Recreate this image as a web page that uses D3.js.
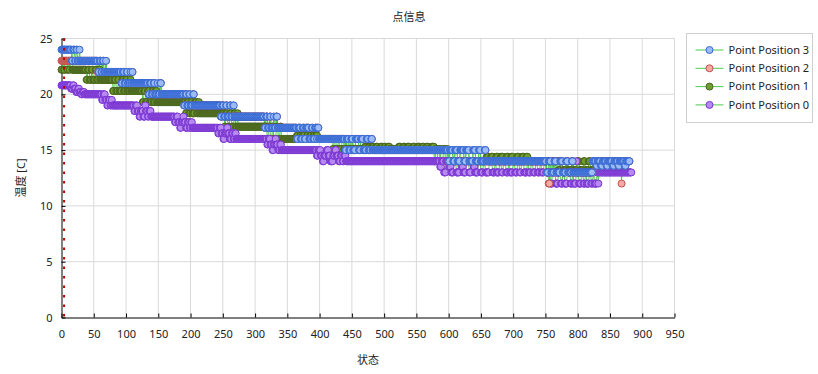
<!DOCTYPE html>
<html>
<head>
<meta charset="utf-8">
<script src="https://cdn.jsdelivr.net/npm/d3@7"></script>
<style>
body { margin: 0; background: #ffffff; }
svg { display: block; }
</style>
</head>
<body>
<script>
var chartWidth = 818;
var chartHeight = 374;

var xTickValues = [0, 50, 100, 150, 200, 250, 300, 350, 400, 450, 500, 550, 600, 650, 700, 750, 800, 850, 900, 950];
var yTickValues = [0, 5, 10, 15, 20, 25];
var seriesNames = ["Point Position 3", "Point Position 2", "Point Position 1", "Point Position 0"];
var currentState = 4;

// temperatures as runs: [value, number of consecutive states]
var pos3Runs = [
    [24,16],
    [23,2],[24,3],[23,2],[24,2],[23,3],[24,1],[23,2],
    [23,26],
    [22,2],[23,3],[22,2],[23,2],[22,3],[23,1],[22,2],
    [22,21],
    [21,2],[22,3],[21,3],[22,2],[21,4],[22,1],[21,2],[22,1],[21,2],
    [21,22],
    [20,2],[21,3],[20,3],[21,2],[20,4],[21,1],[20,3],[21,2],
    [20,35],
    [19,2],[20,3],[19,3],[20,2],[19,4],[20,2],[19,3],
    [19,38],
    [18,2],[19,3],[18,3],[19,2],[18,4],[19,2],[18,3],[19,2],
    [18,47],
    [17,2],[18,3],[17,3],[18,2],[17,4],[18,1],[17,3],[18,2],
    [17,30],
    [16,2],[17,4],[16,3],[17,3],[16,2],[17,5],[16,4],[17,2],[16,3],[17,3],[16,1],[17,2],
    [16,41],
    [15,2],[16,4],[15,3],[16,3],[15,4],[16,5],[15,3],[16,4],[15,5],[16,3],[15,4],[16,2],[15,2],
    [15,116],
    [14,2],[15,5],[14,3],[15,4],[14,4],[15,6],[14,3],[15,5],[14,6],[15,4],[14,5],[15,3],[14,6],[15,2],[14,6],
    [14,88],
    [13,3],[14,4],[13,5],[14,3],[13,6],[14,4],[13,5],[14,3],[13,6],[14,2],[13,7],
    [13,23],
    [14,6],[13.6,2],[14,5],[13.6,3],[14,6],[13.6,2],[14,7],[13.6,3],[14,6],[13.6,2],[14,8],[13.6,2],[14,6]
];

var pos2Runs = [
    [23,56],
    [22,3],[23,3],[22,2],[23,2],[22,3],[23,1],[22,2],
    [22,21],
    [21,2],[22,3],[21,3],[22,2],[21,4],[22,1],[21,2],[22,1],[21,2],
    [21,22],
    [20,2],[21,3],[20,3],[21,2],[20,8],[21,2],
    [20,35],
    [19,2],[20,3],[19,3],[20,2],[19,4],[20,2],[19,3],
    [19,38],
    [18,2],[19,3],[18,3],[19,2],[18,4],[19,2],[18,5],
    [18,47],
    [17,2],[18,3],[17,3],[18,2],[17,4],[18,1],[17,3],[18,2],
    [17,30],
    [16,2],[17,4],[16,3],[17,3],[16,2],[17,5],[16,4],[17,2],[16,3],[17,3],[16,1],[17,2],
    [16,41],
    [15,2],[16,4],[15,3],[16,3],[15,4],[16,5],[15,3],[16,4],[15,5],[16,3],[15,4],[16,2],[15,2],
    [15,116],
    [14,2],[15,5],[14,3],[15,4],[14,4],[15,6],[14,3],[15,5],[14,6],[15,4],[14,5],[15,3],[14,6],[15,2],[14,6],
    [14,88],
    [13,3],[12,2],[14,2],[13,5],[14,3],[13,6],[14,4],[13,5],[14,3],[13,6],[14,2],[13,7],
    [13,23],
    [14,6],[13.6,2],[14,5],[13.6,3],[14,6],[13.6,2],[14,7],[13.6,3],[14,6],[13.6,2],[14,3],[12,1],[14,4],[13.6,2],[14,6]
];

var pos1Runs = [
    [22.2,2],[23,2],[22.2,2],[23,3],[22.2,2],[23,2],[22.2,1],[23,3],[22.2,22],
    [21.3,2],[22.2,3],[21.3,3],[22.2,2],[21.3,4],[22.2,2],[21.3,3],[22.2,2],[21.3,3],
    [21.3,17],
    [20.3,2],[21.3,3],[20.3,3],[21.3,2],[20.3,4],[21.3,3],[20.3,3],[21.3,2],[20.3,5],[21.3,1],[20.3,3],
    [20.3,15],
    [19.3,2],[20.3,3],[19.3,3],[20.3,3],[19.3,4],[20.3,2],[19.3,3],[20.3,2],[19.3,3],
    [19.3,42],
    [18.3,2],[19.3,3],[18.3,3],[19.3,2],[18.3,4],[19.3,3],[18.3,3],[19.3,1],[18.3,2],
    [18.3,37],
    [17.1,2],[18.3,3],[17.1,3],[18.3,3],[17.1,4],[18.3,2],[17.1,3],[18.3,1],[17.1,2],
    [17.1,43],
    [16,2],[17.1,3],[16,3],[17.1,2],[16,4],[17.1,3],[16,3],[17.1,2],
    [16,24],
    [16.3,2],[16,3],[16.3,2],[16,2],[16.3,3],[16,4],[16.3,2],[16,3],[16.3,2],[16,3],[16.3,2],[16,2],[16.3,2],
    [16,24],
    [15.1,2],[16,3],[15.1,3],[16,2],[15.1,4],[16,3],[15.1,3],[16,2],
    [15.1,28],
    [15.3,2],[15.1,3],[15.3,3],[15.1,2],[15.3,4],[15.1,3],[15.3,3],[15.1,4],[15.3,3],[15.1,3],[15.3,2],[15.1,3],[15.3,3],[15.1,2],
    [15.1,12],
    [15.3,3],[15.1,4],[15.3,3],[15.1,3],[15.3,4],[15.1,5],[15.3,3],[15.1,4],[15.3,4],[15.1,3],[15.3,3],[15.1,4],[15.3,3],[15.1,5],[15.3,4],
    [14,2],[15.1,3],[14,3],[15.1,2],[14,4],[15.1,3],[14,3],[15.1,1],[14,2],
    [14,58],
    [14.4,3],[14,4],[14.4,3],[14,5],[14.4,3],[14,4],[14.4,4],[14,5],[14.4,3],[14,4],[14.4,3],[14,6],[14.4,3],[14,5],[14.4,3],[14,4],[14.4,2],[14,4],
    [14,43],
    [13.2,3],[14,4],[13.2,5],[14,3],[13.2,6],[14,3],[13.2,5],[14,4],[13.2,6],[14,3],[13.2,5],[14,3],[13.2,6],
    [14,55]
];

var pos0Runs = [
    [20.8,15],
    [20.5,3],[20.8,2],[20.5,3],[20.2,3],[20.5,2],[20.2,3],[20,2],[20.2,3],
    [20,27],
    [19.5,2],[20,3],[19.5,3],[19,2],[19.5,3],[19,2],[19.5,1],[19,2],
    [19,32],
    [18.5,2],[19,3],[18.5,3],[18,2],[18.5,4],[18,3],[19,1],[18.5,3],[18,2],[18.5,3],[18,2],
    [18,35],
    [17.5,2],[18,3],[17.5,3],[17,2],[17.5,3],[18,1],[17.5,3],[17,3],[17.5,3],[17,2],[17.5,2],[17,3],
    [17,37],
    [16.5,2],[17,3],[16.5,3],[16,2],[16.5,4],[17,1],[16.5,3],[16,3],[16.5,3],[16,2],[16.5,2],
    [16,48],
    [15.5,2],[16,3],[15.5,3],[15,2],[15.5,3],[16,1],[15.5,3],[15,3],[15.5,2],
    [15,55],
    [14.5,2],[15,4],[14.5,3],[14,2],[14.5,4],[15,3],[14.5,3],[14,4],[14.5,3],[15,2],[14.5,4],[14,3],[14.5,3],[14,2],[14.5,3],[14,3],
    [14,143],
    [13.5,2],[14,4],[13,3],[14,5],[13.5,3],[13,4],[14,4],[13,5],[14,3],[13.5,3],[13,4],[14,5],[13,3],[14,4],[13.5,2],[13,5],[14,4],[13,4],[14,3],[13,6],[14,2],
    [14,3],[13,4],[14,2],[13,5],[14,3],[13,3],[14,4],[13,4],[14,2],[13,5],[14,3],[13,4],[14,3],[13,3],[14,4],[13,5],[14,2],[13,4],[14,3],[13,4],[14,3],[13,4],[14,2],[13,4],[14,3],[13,4],
    [13,3],[12,3],[14,2],[13,3],[12,4],[13,2],[14,2],[12,3],[13,3],[12,4],[14,2],[13,3],[12,3],[13,2],[12,4],[14,1],[13,3],[12,4],[13,3],[12,3],[13,2],[12,4],[13,3],[12,3],[13,2],[12,4],[13,2],[12,1],
    [13,51]
];

var fontFamily = "'Noto Sans', 'Noto Sans CJK SC', sans-serif";

// one state per point, counted from 0
function expandRuns(runs) {
    var points = [];
    var state = 0;
    runs.forEach(function(run) {
        for (var i = 0; i < run[1]; i++) {
            points.push([state, run[0]]);
            state++;
        }
    });
    return points;
}

var series = [
    { name: seriesNames[0], points: expandRuns(pos3Runs), fill: "#9dbcf4", stroke: "#3568d4" },
    { name: seriesNames[1], points: expandRuns(pos2Runs), fill: "#f6aaa4", stroke: "#c0504d" },
    { name: seriesNames[2], points: expandRuns(pos1Runs), fill: "#6f9f2e", stroke: "#4a6420" },
    { name: seriesNames[3], points: expandRuns(pos0Runs), fill: "#b78af2", stroke: "#7a34d2" }
];
// bottom to top: green, purple, pink, blue
var drawOrder = [2, 3, 1, 0];

var svg = d3.select("body")
    .append("svg")
    .attr("width", chartWidth)
    .attr("height", chartHeight)
    .style("font-family", fontFamily);

var x = d3.scaleLinear().domain([0, 950]).range([61.5, 674.5]);
var y = d3.scaleLinear().domain([0, 25]).range([317.5, 38.5]);

// grid
svg.append("g")
    .selectAll("line")
    .data(xTickValues.slice(1))
    .join("line")
    .attr("x1", d => x(d)).attr("x2", d => x(d))
    .attr("y1", y(25)).attr("y2", y(0))
    .attr("stroke", "#d9d9d9");

svg.append("g")
    .selectAll("line")
    .data(yTickValues.slice(1))
    .join("line")
    .attr("x1", x(0)).attr("x2", x(950))
    .attr("y1", d => y(d)).attr("y2", d => y(d))
    .attr("stroke", "#d9d9d9");

var xAxis = svg.append("g")
    .attr("transform", `translate(0, ${y(0)})`)
    .call(d3.axisBottom(x).tickValues(xTickValues).tickSizeInner(-4).tickSizeOuter(0).tickPadding(13));

var yAxis = svg.append("g")
    .attr("transform", `translate(${x(0)}, 0)`)
    .call(d3.axisLeft(y).tickValues(yTickValues).tickSizeInner(-4).tickSizeOuter(0).tickPadding(9));

[xAxis, yAxis].forEach(function(axis) {
    axis.attr("font-family", fontFamily).attr("font-size", 11);
    axis.selectAll("text").attr("fill", "#222");
    axis.select(".domain").attr("stroke", "#000");
    axis.selectAll(".tick line").attr("stroke", "#000");
});

// thin green connecting lines, under every marker
var line = d3.line().x(d => x(d[0])).y(d => y(d[1]));

svg.append("g")
    .selectAll("path")
    .data(drawOrder.map(i => series[i]))
    .join("path")
    .attr("d", d => line(d.points))
    .attr("fill", "none")
    .attr("stroke", "#4fca4f")
    .attr("stroke-width", 1);

drawOrder.forEach(function(i) {
    var s = series[i];
    svg.append("g")
        .selectAll("circle")
        .data(s.points)
        .join("circle")
        .attr("cx", d => x(d[0]))
        .attr("cy", d => y(d[1]))
        .attr("r", 3.5)
        .attr("fill", s.fill)
        .attr("stroke", s.stroke)
        .attr("stroke-width", 1);
});

// current state marker
svg.append("line")
    .attr("x1", x(currentState)).attr("x2", x(currentState))
    .attr("y1", y(25)).attr("y2", y(0))
    .attr("stroke", "#c00000")
    .attr("stroke-width", 2)
    .attr("stroke-dasharray", "2.5,7");

// titles
svg.append("text")
    .attr("x", chartWidth / 2)
    .attr("y", 21)
    .attr("text-anchor", "middle")
    .attr("font-size", 11)
    .attr("fill", "#222")
    .text("点信息");

svg.append("text")
    .attr("x", (x(0) + x(950)) / 2)
    .attr("y", 364)
    .attr("text-anchor", "middle")
    .attr("font-size", 11)
    .attr("fill", "#222")
    .text("状态");

svg.append("text")
    .attr("transform", `translate(25, ${(y(0) + y(25)) / 2}) rotate(-90)`)
    .attr("text-anchor", "middle")
    .attr("font-size", 11)
    .attr("fill", "#222")
    .text("温度 [C]");

// legend
var legend = svg.append("g").attr("transform", "translate(686.5, 33.5)");

legend.append("rect")
    .attr("width", 126)
    .attr("height", 89)
    .attr("fill", "#fff")
    .attr("stroke", "#cfcfcf");

var items = legend.selectAll("g.item")
    .data(series)
    .join("g")
    .attr("class", "item")
    .attr("transform", (d, i) => `translate(0, ${16.5 + i * 18.3})`);

items.append("line")
    .attr("x1", 9).attr("x2", 37)
    .attr("stroke", "#4fca4f")
    .attr("stroke-width", 1);

items.append("circle")
    .attr("cx", 23)
    .attr("r", 3.5)
    .attr("fill", d => d.fill)
    .attr("stroke", d => d.stroke);

items.append("text")
    .attr("x", 42)
    .attr("dy", "0.35em")
    .attr("font-size", 11)
    .attr("fill", "#222")
    .text(d => d.name);
</script>
</body>
</html>
